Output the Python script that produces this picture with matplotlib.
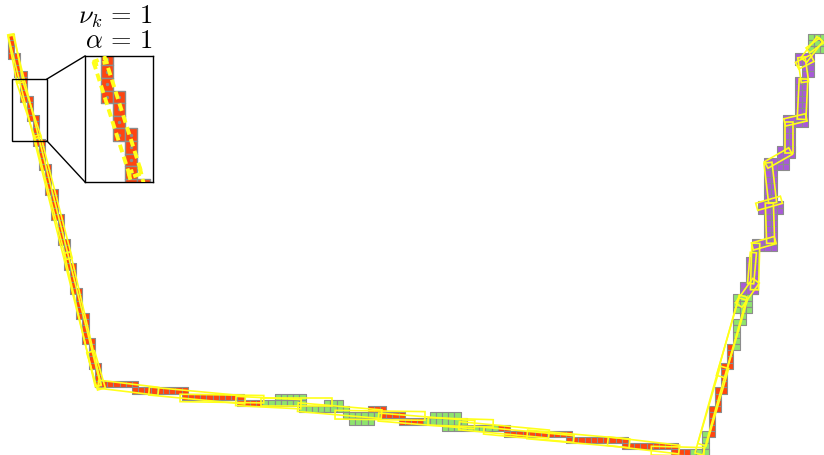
import numpy as np
import matplotlib
matplotlib.use("Agg")
import matplotlib.pyplot as plt
from matplotlib.patches import Rectangle, Polygon
from matplotlib.collections import PatchCollection

plt.rcParams['mathtext.fontset'] = 'cm'

# ---------------- data (cell units: column, row) ----------------
COLORS = {'r': '#ff4510', 'g': '#8fe36e', 'p': '#a85ad8'}

# vertical runs: (col, row_from, row_to, color)
left_runs = [(0, 0, 3, 'r'), (1, 3, 6, 'r'), (2, 6, 10, 'r'), (3, 10, 13, 'r'),
             (4, 13, 17, 'r'), (5, 17, 21, 'r'), (6, 21, 25, 'r'), (7, 25, 29, 'r'),
             (8, 29, 33, 'r'), (9, 33, 37, 'r'), (10, 37, 41, 'r'), (11, 41, 45, 'r'),
             (12, 45, 49, 'r'), (13, 49, 53, 'r'), (14, 53, 56, 'r')]

# horizontal runs: (row, col_from, col_to, color)
bottom_runs = [(56, 14, 20, 'r'), (57, 20, 28, 'r'), (58, 28, 37, 'r'), (59, 37, 40, 'r'),
               (59, 41, 47, 'g'), (60, 47, 54, 'g'), (61, 54, 59, 'g'), (61, 60, 63, 'r'),
               (62, 63, 66, 'r'), (62, 67, 73, 'g'), (63, 73, 78, 'g'), (63, 79, 80, 'r'),
               (64, 80, 90, 'r'), (65, 90, 99, 'r'), (66, 99, 107, 'r'), (67, 107, 109, 'r'),
               (67, 110, 112, 'g'),
               (58, 43, 47, 'g'), (59, 51, 53, 'g'), (62, 55, 58, 'g'), (61, 68, 72, 'g'),
               (63, 70, 72, 'g'), (60, 58, 60, 'r')]

# lower right vertical runs: (col, row_from, row_to, color)
right_runs = [(112, 64, 67, 'g'), (113, 60, 64, 'r'), (114, 57, 60, 'r'), (115, 53, 57, 'r'),
              (116, 50, 53, 'r'), (117, 46, 50, 'g'), (118, 44, 46, 'g')]

# upper right blocks: (col_from, col_to, row_from, row_to, color)
right_blocks = [(117, 119, 42, 44, 'g'), (118, 120, 40, 41, 'p'), (120, 120, 34, 41, 'p'),
                (119, 119, 36, 40, 'p'), (120, 123, 33, 34, 'p'), (122, 123, 26, 32, 'p'),
                (121, 124, 27, 28, 'p'), (122, 123, 22, 25, 'p'), (122, 125, 20, 21, 'p'),
                (124, 126, 18, 19, 'p'), (125, 126, 15, 18, 'p'), (125, 128, 13, 14, 'p'),
                (127, 128, 7, 12, 'p'), (128, 129, 5, 6, 'p'), (127, 129, 3, 4, 'p'),
                (129, 131, 0, 2, 'g')]

# yellow boxes: (x0, y0, x1, y1, width) along segments (cell-centre coords)
yellow_boxes = [(0.5, 0.3, 1.9, 7.6, 1.0), (1.9, 7.8, 4.8, 16.5, 1.0), (4.8, 16.6, 9.8, 36.0, 1.0),
                (9.6, 35.5, 14.5, 56.5, 1.0), (0.5, 0.5, 14.5, 56.5, 0.8),
                (13.4, 51.5, 15.0, 57.0, 1.3),
                (14.8, 56.5, 24.0, 57.6, 1.3), (23.0, 57.6, 38.0, 59.0, 1.3), (28.0, 58.7, 41.0, 58.9, 1.2),
                (37.0, 59.2, 47.0, 59.7, 1.5), (41.0, 59.4, 52.0, 59.4, 1.3), (47.0, 60.2, 60.0, 61.3, 1.4),
                (53.0, 61.4, 67.0, 61.6, 1.4), (60.0, 61.8, 75.0, 63.0, 1.3), (68.0, 62.5, 78.0, 62.8, 1.2),
                (73.0, 63.2, 87.0, 64.5, 1.3), (84.0, 64.6, 100.0, 66.0, 1.4), (77.0, 64.0, 91.0, 65.3, 1.1),
                (97.0, 65.7, 108.0, 67.0, 1.4), (104.0, 67.2, 112.0, 67.4, 1.4),
                (111.5, 67.5, 118.5, 42.5, 1.3), (112.0, 66.0, 115.5, 54.0, 1.4), (115.0, 55.0, 118.5, 43.0, 1.4),
                (118.0, 43.5, 120.5, 40.0, 1.3), (120.4, 41.0, 120.6, 34.0, 1.3), (119.8, 40.0, 120.2, 35.5, 1.0),
                (120.3, 34.2, 123.5, 33.3, 1.2), (123.0, 33.5, 122.8, 27.5, 1.3), (121.0, 27.8, 124.5, 26.8, 1.2),
                (123.3, 27.0, 122.6, 21.0, 1.3), (122.5, 21.0, 126.0, 19.0, 1.2), (126.0, 19.0, 126.0, 14.5, 1.3),
                (125.5, 14.2, 128.5, 13.5, 1.2), (128.0, 13.5, 128.3, 7.5, 1.4), (127.5, 5.0, 129.5, 4.0, 1.2),
                (128.5, 7.5, 128.0, 4.0, 1.2), (128.5, 4.0, 130.8, 1.0, 1.2), (129.2, 2.5, 131.0, 1.2, 1.0)]

# main view in cell units
XLIM = (-1.29, 131.61)
YLIM = (67.9, -5.65)
# inset region
INSET_X = (0.645, 6.29)
INSET_Y = (17.26, 7.26)

# ---------------- build cells ----------------
cells = []
for c, r0, r1, col in left_runs + right_runs:
    for r in range(min(r0, r1), max(r0, r1) + 1):
        cells.append((c, r, col))
for r, c0, c1, col in bottom_runs:
    for c in range(min(c0, c1), max(c0, c1) + 1):
        cells.append((c, r, col))
for c0, c1, r0, r1, col in right_blocks:
    for c in range(c0, c1 + 1):
        for r in range(r0, r1 + 1):
            cells.append((c, r, col))


def draw_cells(ax, lw, dot):
    patches = [Rectangle((c, r), 1, 1) for c, r, _ in cells]
    pc = PatchCollection(patches, facecolor=[COLORS[k] for _, _, k in cells],
                         edgecolor='#8c8c8c', linewidth=lw, zorder=2)
    ax.add_collection(pc)
    if dot:
        xs = [c + 0.5 for c, _, _ in cells]
        ys = [r + 0.5 for _, r, _ in cells]
        ax.scatter(xs, ys, s=dot, color='#8c8c8c', zorder=3, linewidths=0)


def box_poly(x0, y0, x1, y1, w):
    d = np.array([x1 - x0, y1 - y0], float)
    d /= np.hypot(*d)
    n = np.array([-d[1], d[0]]) * w / 2
    e = d * 0.25
    p0 = np.array([x0, y0]) - e
    p1 = np.array([x1, y1]) + e
    return np.array([p0 + n, p1 + n, p1 - n, p0 - n])


def draw_boxes(ax, lw, ls, skip_long=False):
    for i, b in enumerate(yellow_boxes):
        if skip_long and i == 4:
            continue
        ax.add_patch(Polygon(box_poly(*b), closed=True, fill=False, edgecolor='#ffff1a',
                             linewidth=lw, linestyle=ls, zorder=4))


fig = plt.figure(figsize=(8.24, 4.56), dpi=100)
ax = fig.add_axes([0, 0, 1, 1])
ax.set_xlim(*XLIM)
ax.set_ylim(*YLIM)
ax.axis('off')
draw_cells(ax, 0.8, 0)
draw_boxes(ax, 1.2, '-')

# rectangle marking the inset region
ax.add_patch(Rectangle((INSET_X[0], INSET_Y[1]), INSET_X[1] - INSET_X[0], INSET_Y[0] - INSET_Y[1],
                       fill=False, edgecolor='black', linewidth=1.0, zorder=6))

# inset axes
W, H = 824.0, 456.0
ax_in = fig.add_axes([85 / W, 1 - 183 / H, 68 / W, 126 / H])
ax_in.set_xlim(*INSET_X)
ax_in.set_ylim(*INSET_Y)
ax_in.set_xticks([])
ax_in.set_yticks([])
for s in ax_in.spines.values():
    s.set_linewidth(1.0)
draw_cells(ax_in, 1.0, 6)
draw_boxes(ax_in, 2.8, (0, (2, 1.2)), skip_long=True)

# connector lines (figure pixel coords)
for (xa, ya), (xb, yb) in [((47, 80), (85, 57)), ((47, 142), (85, 183))]:
    fig.add_artist(plt.Line2D([xa / W, xb / W], [1 - ya / H, 1 - yb / H],
                              color='black', linewidth=1.0))

fig.text(153 / W, 1 - 17 / H, r'$\nu_k \,=\, 1$', ha='right', va='center', fontsize=19)
fig.text(153 / W, 1 - 41 / H, r'$\alpha \,=\, 1$', ha='right', va='center', fontsize=19)

fig.savefig('out.png', dpi=100)
